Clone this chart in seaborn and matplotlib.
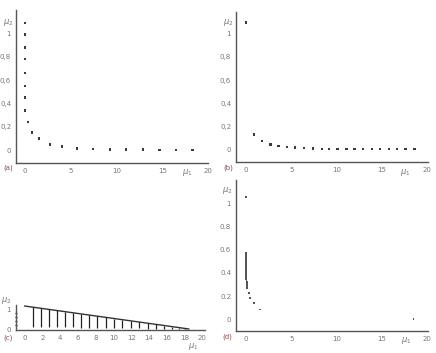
import numpy as np
import pandas as pd
import seaborn as sns
import matplotlib.pyplot as plt
from matplotlib.ticker import FuncFormatter

# (a) points
a_mu1 = [0, 0, 0, 0, 0, 0, 0, 0, 0.3, 0.75, 1.5, 2.7, 4.0, 5.7, 7.4, 9.3, 11.0, 12.9, 14.7, 16.5, 18.3]
a_mu2 = [1.09, 0.99, 0.88, 0.78, 0.66, 0.55, 0.45, 0.34, 0.24, 0.15, 0.10, 0.05, 0.03, 0.015,
         0.01, 0.006, 0.005, 0.004, 0.003, 0.003, 0.003]

# (b) points
b_mu1 = [0, 0.9, 1.8, 2.7, 3.6, 4.5, 5.4, 6.4, 7.4, 8.4, 9.2, 10.1, 11.1, 12.0, 12.9, 13.9,
         14.8, 15.8, 16.7, 17.6, 18.6]
b_mu2 = [1.1, 0.13, 0.07, 0.04, 0.03, 0.02, 0.015, 0.01, 0.006, 0.005, 0.004, 0.004, 0.003,
         0.003, 0.003, 0.002, 0.002, 0.002, 0.002, 0.002, 0.002]

# (c) envelope line and vertical ranges
c_line_mu1 = [0, 18.5]
c_line_mu2 = [1.15, 0]
c_mu1 = [0.9, 1.8, 2.7, 3.6, 4.5, 5.5, 6.4, 7.3, 8.2, 9.2, 10.1, 11.0, 12.0, 12.9, 13.9,
         14.8, 15.7, 16.6, 17.4, 18.1]
c_top = [1.09, 1.04, 0.98, 0.93, 0.87, 0.81, 0.75, 0.70, 0.64, 0.58, 0.52, 0.47, 0.40, 0.35,
         0.29, 0.23, 0.17, 0.12, 0.07, 0.03]
c_bot = [0.10, 0.12, 0.10, 0.10, 0.08, 0.08, 0.06, 0.06, 0.05, 0.05, 0.04, 0.04, 0.03, 0.03,
         0.02, 0.02, 0.02, 0.01, 0.01, 0.01]

# (d) points
d_mu1 = [0.0, 0.0, 0.0, 0.0, 0.01, 0.01, 0.01, 0.01, 0.02, 0.02, 0.02, 0.02, 0.03, 0.03, 0.03,
         0.04, 0.04, 0.04, 0.05, 0.05, 0.06, 0.06, 0.07, 0.08, 0.09, 0.10, 0.11, 0.13,
         0.3, 0.48, 0.85, 1.6, 18.5, 0.0]
d_mu2 = [0.57, 0.555, 0.54, 0.525, 0.51, 0.495, 0.48, 0.47, 0.46, 0.45, 0.44, 0.43, 0.42, 0.41,
         0.40, 0.39, 0.38, 0.37, 0.36, 0.35, 0.34, 0.33, 0.32, 0.31, 0.30, 0.29, 0.28, 0.27,
         0.23, 0.18, 0.14, 0.085, 0.0, 1.05]

x_ticks = [0, 5, 10, 15, 20]
y_ticks = [0, 0.2, 0.4, 0.6, 0.8, 1]
c_xticks = [0, 2, 4, 6, 8, 10, 12, 14, 16, 18, 20]

sns.set_style('white')
plt.rcParams['font.family'] = ['DejaVu Sans']

W, H = 436, 353
fig = plt.figure(figsize=(W / 100, H / 100), dpi=100)

spine_c = '#555555'
txt_c = '#777777'
dot_c = '#3a3a3a'


def make_ax(left, right, top, bottom):
    ax = fig.add_axes([left / W, 1 - bottom / H, (right - left) / W, (bottom - top) / H])
    sns.despine(ax=ax)
    for s in ['left', 'bottom']:
        ax.spines[s].set_color(spine_c)
        ax.spines[s].set_linewidth(1.0)
    ax.tick_params(direction='inout', length=3, width=1.2, color='#222222',
                   labelsize=5, labelcolor=txt_c, pad=2)
    ax.set_xlabel('')
    ax.set_ylabel('')
    return ax


comma = FuncFormatter(lambda v, p: ('%g' % v).replace('.', ','))
plain = FuncFormatter(lambda v, p: '%g' % v)

# (a)
ax = make_ax(16, 208, 10, 163)
sns.scatterplot(x=a_mu1, y=a_mu2, ax=ax, s=3, color=dot_c, edgecolor='none', marker='s')
ax.set_xlim(-1.0, 20)
ax.set_ylim(-0.11, 1.2)
ax.set_xticks(x_ticks)
ax.set_yticks(y_ticks)
ax.yaxis.set_major_formatter(comma)

# (b)
ax = make_ax(236, 428, 12, 162)
sns.scatterplot(x=b_mu1, y=b_mu2, ax=ax, s=3, color=dot_c, edgecolor='none', marker='s')
ax.set_xlim(-1.1, 20.1)
ax.set_ylim(-0.11, 1.19)
ax.set_xticks(x_ticks)
ax.set_yticks(y_ticks)
ax.yaxis.set_major_formatter(comma)

# (c)
ax = make_ax(16, 205, 305, 330)
sns.lineplot(x=c_line_mu1, y=c_line_mu2, ax=ax, color='#333333', linewidth=1.0)
ax.vlines(c_mu1, c_bot, c_top, colors='#222222', linewidth=0.9)
ax.set_xlim(-0.96, 20.3)
ax.set_ylim(-0.05, 1.2)
ax.set_xticks(c_xticks)
ax.set_yticks([0, 1])
ax.set_yticks([0.2, 0.4, 0.6, 0.8], minor=True)
ax.tick_params(which='minor', direction='inout', length=2, width=1, color='#222222', left=True)

# (d)
ax = make_ax(236, 428, 180, 331)
sns.scatterplot(x=d_mu1, y=d_mu2, ax=ax, s=2, color='#555555', edgecolor='none', marker='s')
ax.set_xlim(-1.1, 20.1)
ax.set_ylim(-0.1, 1.2)
ax.set_xticks(x_ticks)
ax.set_yticks(y_ticks)
ax.yaxis.set_major_formatter(plain)

# labels
def ftext(x, y, s, **kw):
    fig.text(x / W, 1 - y / H, s, ha='center', va='center', **kw)

lab_c = '#8a4a4a'
ftext(8, 168, '(a)', fontsize=5, color=lab_c)
ftext(228, 168, '(b)', fontsize=5, color=lab_c)
ftext(8, 338, '(c)', fontsize=5, color=lab_c)
ftext(227, 337, '(d)', fontsize=5, color=lab_c)

ftext(187, 173, r'$\mu_1$', fontsize=6, color=txt_c)
ftext(405, 173, r'$\mu_1$', fontsize=6, color=txt_c)
ftext(193, 346, r'$\mu_1$', fontsize=6, color=txt_c)
ftext(406, 341, r'$\mu_1$', fontsize=6, color=txt_c)

ftext(8, 22, r'$\mu_2$', fontsize=6, color=txt_c)
ftext(228, 23, r'$\mu_2$', fontsize=6, color=txt_c)
ftext(6, 301, r'$\mu_2$', fontsize=6, color=txt_c)
ftext(227, 191, r'$\mu_2$', fontsize=6, color=txt_c)

fig.savefig('out.png', dpi=100)
